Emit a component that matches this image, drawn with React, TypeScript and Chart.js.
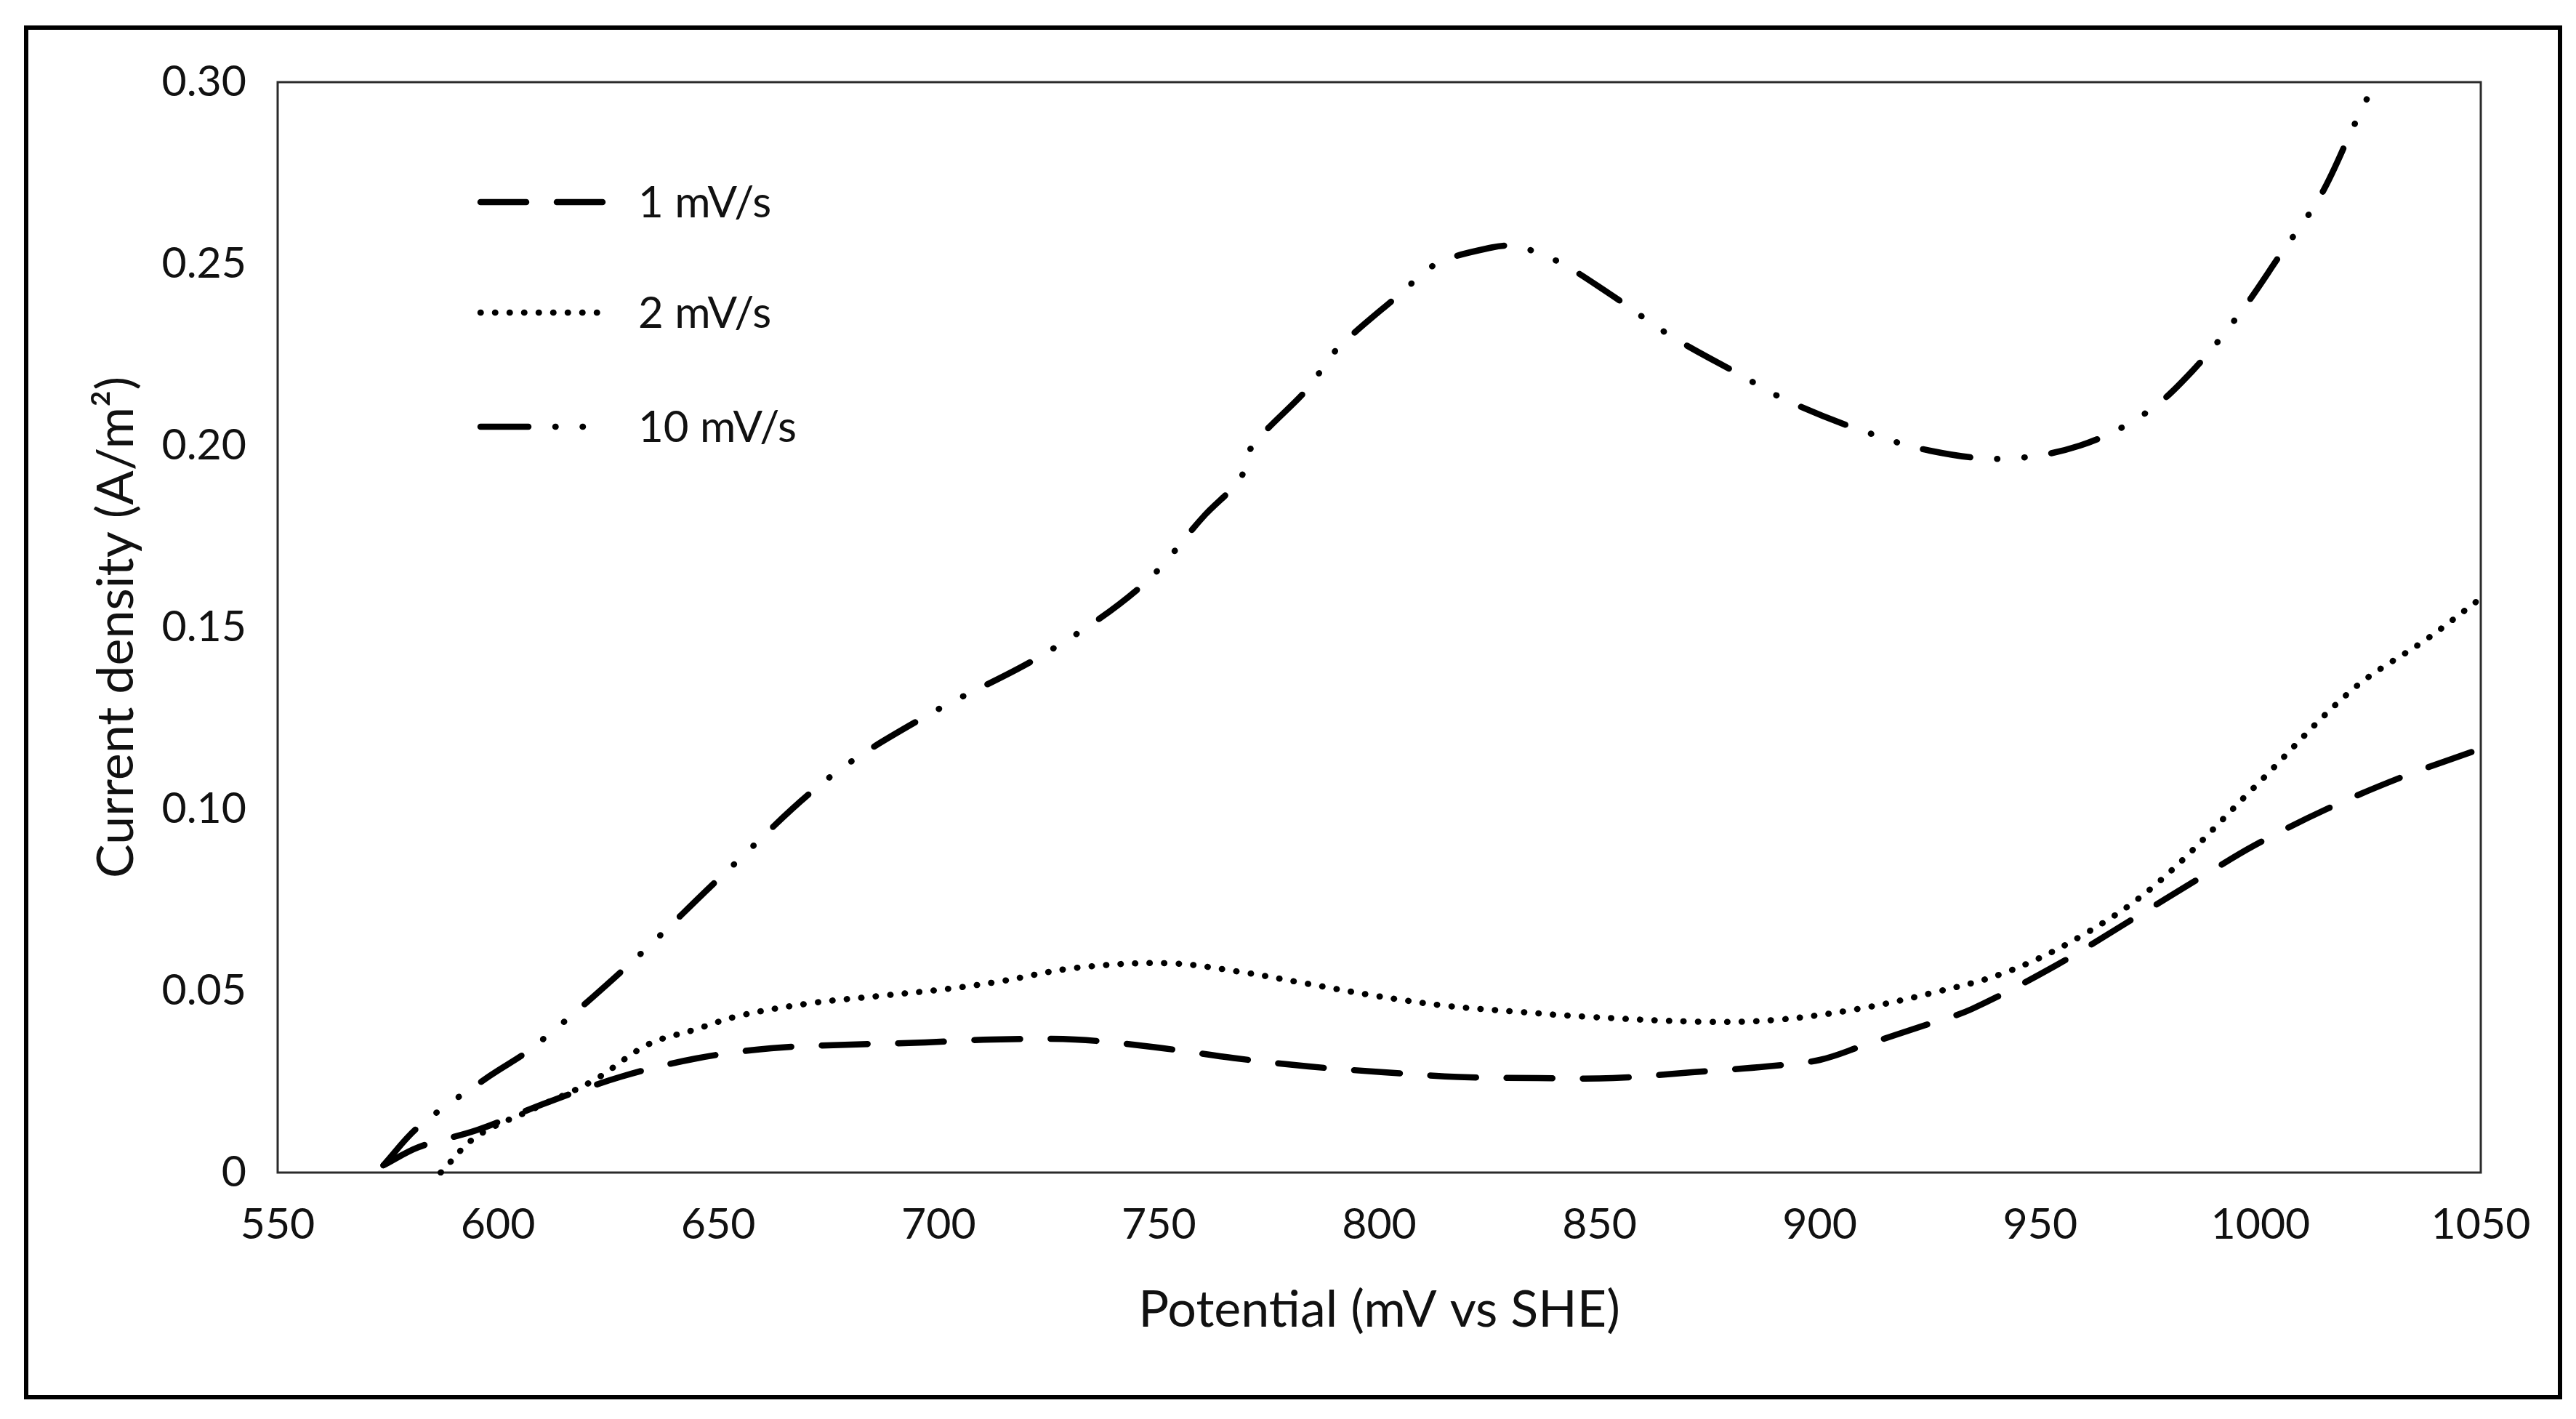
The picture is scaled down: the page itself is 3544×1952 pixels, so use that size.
import React, { useEffect, useRef } from 'react';
import { Chart, registerables } from 'chart.js';

Chart.register(...registerables);

// ---- axis settings ----
const xMin = 550;
const xMax = 1050;
const xStep = 50;
const yMin = 0;
const yMax = 0.3;
const yStep = 0.05;

const xTitle = 'Potential (mV vs SHE)';
const yTitle = 'Current density (A/m²)';

// ---- series ----
const seriesLabels = ['1 mV/s', '2 mV/s', '10 mV/s'];

const potential1 = [574, 582, 595.5, 611, 628, 645, 662, 680, 697, 712, 731, 749, 767, 784, 801, 818, 836, 853, 871, 888, 900, 910, 925, 934.5, 953.6, 970, 987, 998.6, 1015, 1032.5, 1050];
const current1 = [0.002, 0.007, 0.0118, 0.0192, 0.0264, 0.0314, 0.0342, 0.0352, 0.0358, 0.0366, 0.0366, 0.0345, 0.0315, 0.0292, 0.0276, 0.0263, 0.026, 0.026, 0.0276, 0.0292, 0.031, 0.035, 0.041, 0.045, 0.057, 0.069, 0.0816, 0.09, 0.1, 0.109, 0.1166];

const potential2 = [587, 595, 608, 621.5, 634, 644.6, 655, 671, 686.7, 702.5, 714, 731, 752, 768, 783.5, 799.3, 815, 830.8, 846.6, 873, 890, 908.6, 925.4, 942, 959.2, 976, 998.6, 1021, 1038, 1050];
const current2 = [0, 0.0098, 0.0175, 0.0252, 0.0352, 0.0393, 0.0432, 0.0466, 0.0486, 0.0506, 0.0526, 0.0563, 0.0576, 0.0553, 0.052, 0.0486, 0.0459, 0.0443, 0.0429, 0.0415, 0.042, 0.045, 0.0494, 0.055, 0.065, 0.079, 0.106, 0.133, 0.147, 0.158];

const potential3 = [574, 582, 598, 608, 630, 652, 675, 697, 724, 746, 760.5, 768.5, 771, 784, 790, 805, 813, 825.5, 831, 840, 852, 866, 881.6, 892.4, 908.7, 925, 942, 959, 974, 984.6, 995.5, 1004.6, 1013.6, 1021, 1026, 1032];
const current3 = [0.002, 0.0126, 0.0265, 0.0345, 0.0575, 0.083, 0.1085, 0.1255, 0.1427, 0.1613, 0.181, 0.191, 0.1995, 0.216, 0.226, 0.242, 0.25, 0.2545, 0.2548, 0.251, 0.242, 0.2303, 0.2197, 0.2125, 0.2045, 0.1986, 0.1964, 0.2, 0.209, 0.2206, 0.2367, 0.2527, 0.2687, 0.2875, 0.3, 0.315];

const W = 3544;
const H = 1952;
const FONT = 'Lato, "Open Sans", sans-serif';
const TEXT = '#111111';
const LINE_W = 8.5;

const dashes: number[][] = [
  [63, 42],
  [0.5, 19.5],
  [66, 37, 0.5, 37, 0.5, 37],
];

const toPoints = (xs: number[], ys: number[]) => xs.map((x, i) => ({ x, y: ys[i] }));

const decorPlugin = {
  id: 'decor',
  beforeDraw(chart: any) {
    const ctx = chart.ctx;
    ctx.save();
    ctx.fillStyle = '#ffffff';
    ctx.fillRect(0, 0, chart.width, chart.height);
    ctx.strokeStyle = '#000000';
    ctx.lineWidth = 6;
    ctx.strokeRect(36, 38, 3486, 1884);
    ctx.restore();
  },
  beforeDatasetsDraw(chart: any) {
    const { ctx, chartArea: a } = chart;
    ctx.save();
    ctx.strokeStyle = '#2b2b2b';
    ctx.lineWidth = 3;
    ctx.strokeRect(a.left, a.top, a.right - a.left, a.bottom - a.top);
    ctx.restore();
  },
  afterDatasetsDraw(chart: any) {
    const { ctx, chartArea: a } = chart;
    const rows = [165, 317, 474];
    ctx.save();
    chart.data.datasets.forEach((ds: any, i: number) => {
      const y = a.top + rows[i];
      ctx.beginPath();
      ctx.setLineDash(ds.borderDash || []);
      ctx.lineCap = 'round';
      ctx.lineWidth = ds.borderWidth;
      ctx.strokeStyle = ds.borderColor;
      ctx.moveTo(a.left + 279, y);
      ctx.lineTo(a.left + (i === 1 ? 440 : 447), y);
      ctx.stroke();
      ctx.setLineDash([]);
      ctx.fillStyle = TEXT;
      ctx.font = `60px ${FONT}`;
      ctx.textAlign = 'left';
      ctx.textBaseline = 'middle';
      ctx.fillText(ds.label, a.left + 496, y + 2);
    });
    ctx.restore();
  },
};

export default function App() {
  const ref = useRef<HTMLCanvasElement | null>(null);

  useEffect(() => {
    document.body.style.margin = '0';
    const canvas = ref.current;
    if (!canvas) return;
    const datasets = [
      toPoints(potential1, current1),
      toPoints(potential2, current2),
      toPoints(potential3, current3),
    ].map((data, i) => ({
      label: seriesLabels[i],
      data,
      showLine: true,
      borderColor: '#000000',
      backgroundColor: '#000000',
      borderWidth: LINE_W,
      borderDash: dashes[i],
      borderCapStyle: 'round',
      borderJoinStyle: 'round',
      pointRadius: 0,
      pointHoverRadius: 0,
      tension: 0.35,
      fill: false,
      clip: 4,
    }));

    const chart = new Chart(canvas, {
      type: 'scatter',
      data: { datasets } as any,
      options: {
        animation: false,
        responsive: false,
        maintainAspectRatio: false,
        devicePixelRatio: 1,
        layout: { padding: { left: 0, top: 113, right: 131, bottom: 0 } },
        plugins: {
          legend: { display: false },
          tooltip: { enabled: false },
        },
        scales: {
          x: {
            type: 'linear',
            min: xMin,
            max: xMax,
            grid: { display: false, drawTicks: false },
            border: { display: false },
            ticks: {
              stepSize: xStep,
              color: TEXT,
              font: { family: FONT, size: 59 },
              padding: 37,
              maxRotation: 0,
              autoSkip: false,
              callback: (v: any) => String(Math.round(Number(v))),
            },
            title: {
              display: true,
              text: xTitle,
              color: TEXT,
              font: { family: FONT, size: 70 },
              padding: { top: 0, bottom: 108 },
            },
            afterFit: (s: any) => {
              s.height = 339;
            },
          },
          y: {
            type: 'linear',
            min: yMin,
            max: yMax,
            grid: { display: false, drawTicks: false },
            border: { display: false },
            ticks: {
              stepSize: yStep,
              color: TEXT,
              font: { family: FONT, size: 59 },
              padding: 43,
              callback: (v: any) => (Number(v) === 0 ? '0' : Number(v).toFixed(2)),
            },
            title: {
              display: true,
              text: yTitle,
              color: TEXT,
              font: { family: FONT, size: 70 },
              padding: { top: 118, bottom: 0 },
            },
            afterFit: (s: any) => {
              s.width = 382;
            },
          },
        },
      },
      plugins: [decorPlugin],
    } as any);

    return () => chart.destroy();
  }, []);

  return (
    <div style={{ position: 'fixed', left: 0, top: 0, width: W, height: H, background: '#fff' }}>
      <canvas ref={ref} width={W} height={H} style={{ width: W, height: H, display: 'block' }} />
    </div>
  );
}
